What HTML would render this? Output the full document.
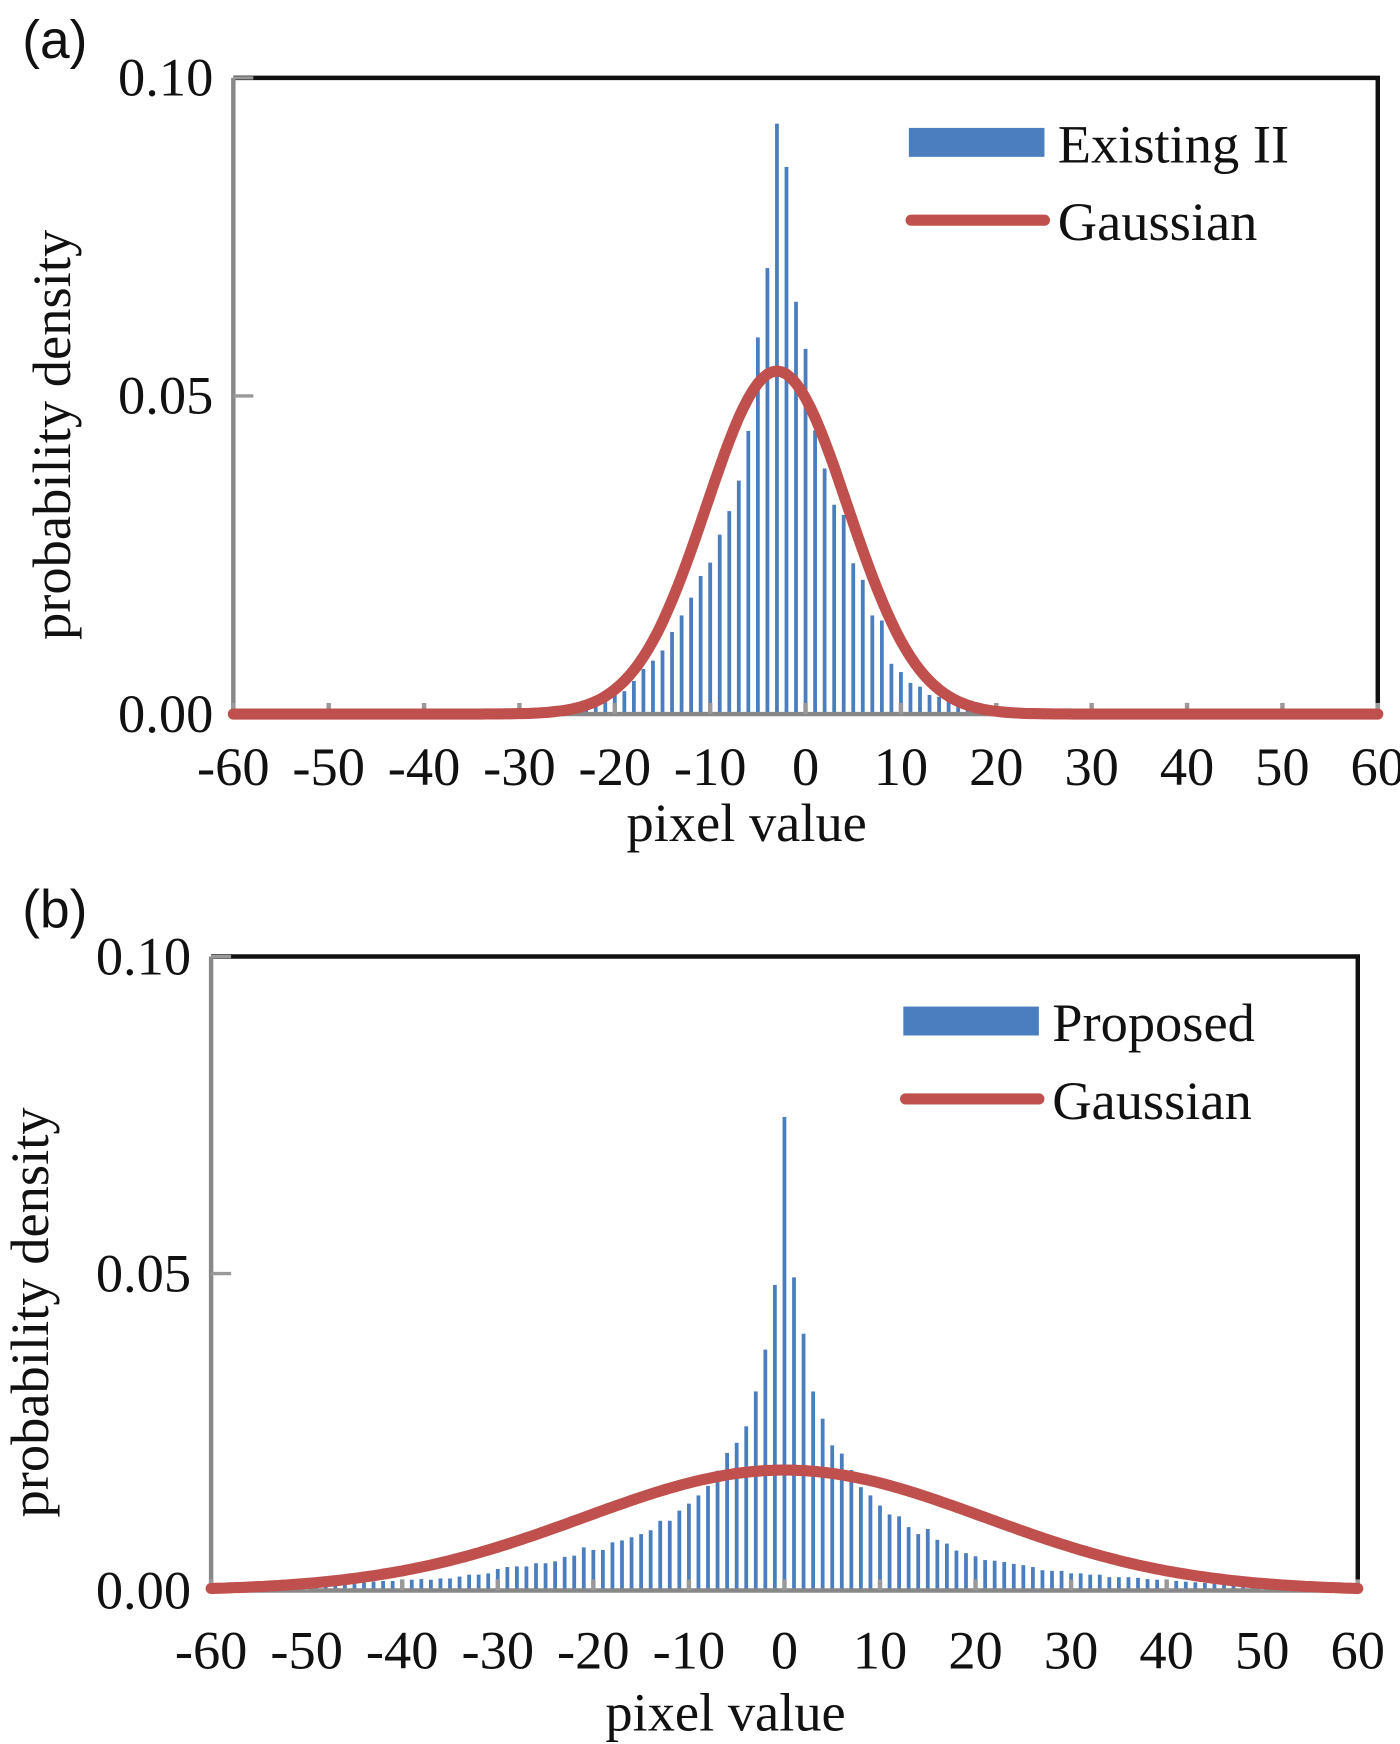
<!DOCTYPE html>
<html><head><meta charset="utf-8"><style>
html,body{margin:0;padding:0;background:#fff}
svg{display:block}
text{font-family:"Liberation Serif",serif;fill:#111}
</style></head><body>
<svg id="fig" width="1400" height="1744" viewBox="0 0 1260 1568" preserveAspectRatio="none" xmlns="http://www.w3.org/2000/svg"></svg>
<script>
// ---- data ----
const binsA = [-24,-23,-22,-21,-20,-19,-18,-17,-16,-15,-14,-13,-12,-11,-10,-9,-8,-7,-6,-5,-4,-3,-2,-1,0,1,2,3,4,5,6,7,8,9,10,11,12,13,14,15,16,17];
const valsA = [0.001,0.0015,0.002,0.0025,0.003,0.0036,0.0052,0.0071,0.0084,0.0100,0.0129,0.0155,0.0183,0.0217,0.0238,0.0282,0.0319,0.0367,0.0445,0.0592,0.0701,0.0928,0.086,0.0648,0.0574,0.0446,0.0386,0.0329,0.0313,0.0237,0.0211,0.0155,0.0147,0.0079,0.0066,0.0049,0.0043,0.003,0.0027,0.002,0.0016,0.001];
const binsB = [-52,-51,-50,-49,-48,-47,-46,-45,-44,-43,-42,-41,-40,-39,-38,-37,-36,-35,-34,-33,-32,-31,-30,-29,-28,-27,-26,-25,-24,-23,-22,-21,-20,-19,-18,-17,-16,-15,-14,-13,-12,-11,-10,-9,-8,-7,-6,-5,-4,-3,-2,-1,0,1,2,3,4,5,6,7,8,9,10,11,12,13,14,15,16,17,18,19,20,21,22,23,24,25,26,27,28,29,30,31,32,33,34,35,36,37,38,39,40,41,42,43,44,45,46,47,48,49,50,51,52];
const valsB = [0.0005,0.0006,0.0007,0.0008,0.0009,0.001,0.0011,0.0012,0.0013,0.0014,0.0015,0.0015,0.0016,0.0017,0.0018,0.0017,0.0019,0.0019,0.0022,0.0025,0.0025,0.0027,0.0034,0.0037,0.0038,0.0038,0.0043,0.0043,0.0046,0.0053,0.0055,0.0068,0.0064,0.0064,0.0076,0.0079,0.0084,0.0089,0.0095,0.011,0.011,0.0126,0.0137,0.0150,0.0165,0.0189,0.0217,0.0233,0.0259,0.0314,0.0380,0.0482,0.0747,0.0494,0.0405,0.0314,0.0271,0.0229,0.0216,0.0190,0.0163,0.0150,0.0134,0.012,0.0117,0.010,0.0089,0.0097,0.008,0.0074,0.0063,0.0059,0.0054,0.0048,0.0047,0.0045,0.0042,0.004,0.0037,0.0032,0.0031,0.0031,0.0027,0.0027,0.0025,0.0025,0.0021,0.0021,0.0021,0.002,0.0018,0.0017,0.0016,0.0015,0.0014,0.0013,0.0012,0.0011,0.001,0.0009,0.0008,0.0007,0.0006,0.0005];
const gaussA = [-3, 7.4];   // mean, sigma
const gaussB = [0, 21];
const xTicks = [-60,-50,-40,-30,-20,-10,0,10,20,30,40,50,60];
const yTicks = [0, 0.05, 0.10];
const yTickLabels = ["0.00","0.05","0.10"];

const NS = "http://www.w3.org/2000/svg";
const svg = document.getElementById('fig');
function mk(tag, attrs, parent){const e=document.createElementNS(NS,tag);for(const k in attrs)e.setAttribute(k,attrs[k]);(parent||svg).appendChild(e);return e;}

function panel(cfg){
  const g = mk('g',{});
  
  
  const X = v => cfg.L + (v+60)/120*(cfg.R-cfg.L);
  const Y = v => cfg.B - v/0.1*(cfg.B-cfg.T);
  const fr = mk('path',{d:`M${cfg.L},${cfg.T} H${cfg.R} V${cfg.B}`,fill:'none',stroke:'#111','stroke-width':4},g);
  
  
  cfg.bins.forEach((b,i)=>{
    const r = mk('rect',{x:X(b)-1.7,y:Y(cfg.vals[i]),width:3.4,height:cfg.B-Y(cfg.vals[i]),fill:'#4a7ebf'},g);
    
    
  });
  const xa = mk('line',{x1:cfg.L,y1:cfg.B,x2:cfg.R,y2:cfg.B,stroke:'#888','stroke-width':4},g);
  
  
  const ya = mk('line',{x1:cfg.L,y1:cfg.T,x2:cfg.L,y2:cfg.B,stroke:'#888','stroke-width':4},g);
  
  
  xTicks.forEach(t=>{
    mk('line',{x1:X(t),y1:cfg.B,x2:X(t),y2:cfg.B-10,stroke:'#999','stroke-width':4},g);
    const tx = mk('text',{x:X(t),y:cfg.B+64+cfg.dy,'text-anchor':'middle','font-size':49},g);
    tx.textContent = t;
    
    
  });
  yTicks.forEach((t,i)=>{
    mk('line',{x1:cfg.L,y1:Y(t),x2:cfg.L+18,y2:Y(t),stroke:'#999','stroke-width':3},g);
    const ty = mk('text',{x:cfg.L-18,y:Y(t)+16,'text-anchor':'end','font-size':49},g);
    ty.textContent = yTickLabels[i];
    
    
  });
  let d='';
  for(let v=-60; v<=60.001; v+=0.5){
    const p = Math.exp(-((v-cfg.gauss[0])**2)/(2*cfg.gauss[1]**2))/(cfg.gauss[1]*Math.sqrt(2*Math.PI));
    d += (d?'L':'M') + X(v).toFixed(1)+','+Y(p).toFixed(1);
  }
  const gl = mk('path',{d:d,fill:'none',stroke:'#c0504d','stroke-width':10,'stroke-linecap':'round','stroke-linejoin':'round'},g);
  
  
  const lr = mk('rect',{x:cfg.lx,y:cfg.ly,width:122,height:26,fill:'#4a7ebf'},g);
  
  
  const ll = mk('line',{x1:cfg.lx+2,y1:cfg.ly+83,x2:cfg.lx+122,y2:cfg.ly+83,stroke:'#c0504d','stroke-width':10,'stroke-linecap':'round'},g);
  
  
  const t1 = mk('text',{x:cfg.lx+134,y:cfg.ly+31,'font-size':49},g);
  t1.textContent = cfg.label;
  
  
  const t2 = mk('text',{x:cfg.lx+134,y:cfg.ly+101,'font-size':49},g);
  t2.textContent = 'Gaussian';
  
  
  const xt = mk('text',{x:(cfg.L+cfg.R)/2-53,y:cfg.B+114+cfg.dy2,'text-anchor':'middle','font-size':49},g);
  xt.textContent='pixel value';
  
  
  const yx = cfg.L-147, yy=(cfg.T+cfg.B)/2+35;
  const yt = mk('text',{x:yx,y:yy,'text-anchor':'middle','font-size':49,transform:`rotate(-90 ${yx} ${yy})`},g);
  yt.textContent='probability density';
  
  
  const pl = mk('text',{x:cfg.pl[0],y:cfg.pl[1],'font-size':48,style:'font-family:"Liberation Sans",sans-serif'},g);
  pl.textContent = cfg.plabel;
  
  
}
panel({name:'panel-a',L:210,R:1240,T:70,B:642,dy:0,dy2:0,bins:binsA,vals:valsA,gauss:gaussA,lx:818,ly:115,label:'Existing II',plabel:'(a)',pl:[20,52]});
panel({name:'panel-b',L:190,R:1222,T:860,B:1430,dy:6,dy2:12,bins:binsB,vals:valsB,gauss:gaussB,lx:813,ly:905,label:'Proposed',plabel:'(b)',pl:[20,834]});
</script>
</body></html>
